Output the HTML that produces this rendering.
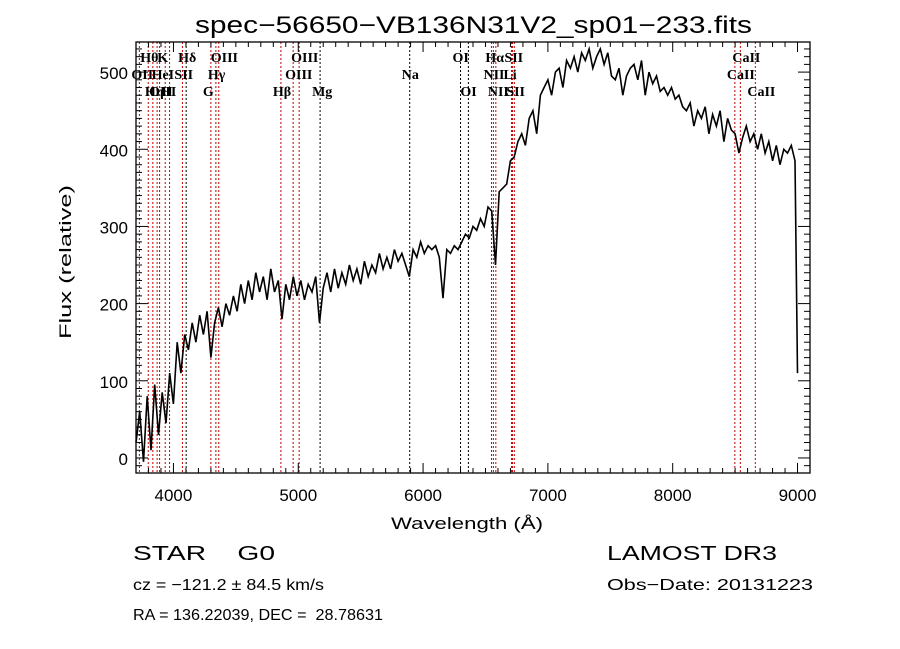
<!DOCTYPE html>
<html><head><meta charset="utf-8"><style>
html,body{margin:0;padding:0;background:#fff}
svg{display:block}
text{font-family:"Liberation Sans",sans-serif;fill:#000;white-space:pre}
.t{font-family:"Liberation Serif",serif;font-size:14px;font-weight:bold}
</style></head><body>
<svg id="chart" width="900" height="649" viewBox="0 0 900 649" xmlns="http://www.w3.org/2000/svg" xml:space="preserve">
<rect width="900" height="649" fill="#fff"/>
<text x="195" y="33" font-size="24" textLength="557" lengthAdjust="spacingAndGlyphs">spec−56650−VB136N31V2_sp01−233.fits</text>
<g id="marks"></g>
<g id="ticks"></g>
<rect x="136" y="42" width="674" height="431" fill="none" stroke="#000" stroke-width="1.3"/>
<text x="467" y="529" font-size="17" text-anchor="middle" textLength="152" lengthAdjust="spacingAndGlyphs">Wavelength (Å)</text>
<text transform="translate(71,262) rotate(-90)" font-size="17" text-anchor="middle" textLength="154" lengthAdjust="spacingAndGlyphs">Flux (relative)</text>
<text x="133" y="560" font-size="20" textLength="142" lengthAdjust="spacingAndGlyphs">STAR    G0</text>
<text x="607" y="560" font-size="20" textLength="170" lengthAdjust="spacingAndGlyphs">LAMOST DR3</text>
<text x="133" y="590" font-size="16" textLength="191" lengthAdjust="spacingAndGlyphs">cz = −121.2 ± 84.5 km/s</text>
<text x="607" y="590" font-size="16" textLength="206" lengthAdjust="spacingAndGlyphs">Obs−Date: 20131223</text>
<text x="133" y="620" font-size="16" textLength="250" lengthAdjust="spacingAndGlyphs">RA = 136.22039, DEC =  28.78631</text>
</svg>
<script>
const wlStart = 3700;
const wlStep = 30;
const flux = [20,60,-5,80,10,95,30,85,45,110,70,150,110,160,140,175,150,185,160,190,
130,175,195,170,200,185,210,190,225,200,230,205,240,215,235,205,245,215,230,180,
225,205,235,210,230,205,225,215,235,175,220,240,215,245,220,240,225,250,230,245,
225,255,235,250,240,265,245,260,245,270,255,265,250,235,270,260,280,265,275,270,
275,260,207,270,265,275,270,280,290,285,300,295,310,300,325,320,250,345,350,355,
385,390,410,420,405,440,450,420,470,480,490,470,500,505,480,515,505,520,500,525,
515,530,505,520,530,510,525,495,490,505,470,495,505,510,490,515,470,500,485,495,
475,480,470,480,465,470,455,450,460,430,450,440,455,420,445,430,450,410,440,425,
420,395,415,430,410,420,400,420,395,410,385,405,380,400,395,405,385,110];
const lineWaves = [3727,3798,3835,3869,3889,3934,3969,4072,4102,4300,4340,4363,4861,4959,5007,5175,5893,6300,6363,6548,6563,6583,6708,6716,6731,8498,8542,8662];
const lineColors = ["r","r","r","r","r","r","r","r","k","r","r","r","r","r","r","k","k","k","k","r","r","r","r","r","r","r","r","r"];
const labelText = ["Hθ","K","Hδ","OIII","OIII","OI","Hα","SII","CaII",
"OII","HeI","SII","Hγ","OIII","Na","NII","Li","CaII",
"OIII","Hη","H","G","Hβ","Mg","OI","NII","SII","CaII"];
const labelWaves = [3798,3934,4102,4363,5007,6300,6563,6716,8542,
3727,3889,4072,4340,4959,5893,6548,6708,8498,
3869,3835,3969,4300,4861,5175,6363,6583,6731,8662];
const labelRows = [0,0,0,0,0,0,0,0,0,1,1,1,1,1,1,1,1,1,2,2,2,2,2,2,2,2,2,2];
const xTicks = [4000,5000,6000,7000,8000,9000];
const yTicks = [0,100,200,300,400,500];

const NS="http://www.w3.org/2000/svg";
const X0=136,X1=810,Y0=473,Y1=42, XMIN=3700,XMAX=9100, YMIN=-19.5,YMAX=539;
const xs=w=>X0+(w-XMIN)/(XMAX-XMIN)*(X1-X0);
const ys=v=>Y0-(v-YMIN)/(YMAX-YMIN)*(Y0-Y1);
const marks=document.getElementById('marks'), ticks=document.getElementById('ticks');
function mk(tag,attrs,parent){const e=document.createElementNS(NS,tag);for(const k in attrs)e.setAttribute(k,attrs[k]);parent.appendChild(e);return e;}

lineWaves.forEach((w,i)=>{
  const l=mk('line',{x1:xs(w),x2:xs(w),y1:Y1,y2:Y0,stroke:lineColors[i]==="r"?"#c00000":"#000","stroke-width":1,"stroke-dasharray":"2,2"},marks);
  
  
});
labelText.forEach((t,i)=>{
  const e=mk('text',{x:xs(labelWaves[i])-8,y:62+labelRows[i]*17,class:'t'},marks);
  e.textContent=t;
  
  
});
let d='';
flux.forEach((f,i)=>{const w=wlStart+i*wlStep;d+=(i?'L':'M')+xs(Math.min(w,9000)).toFixed(1)+','+ys(f).toFixed(1);});
const p=mk('path',{d:d,fill:'none',stroke:'#000','stroke-width':1.6},marks);



for(let w=3700;w<=9100;w+=100){
  const maj=w%1000===0, L=maj?10:5;
  mk('line',{x1:xs(w),x2:xs(w),y1:Y0,y2:Y0-L,stroke:'#000'},ticks);
  mk('line',{x1:xs(w),x2:xs(w),y1:Y1,y2:Y1+L,stroke:'#000'},ticks);
}
for(let v=-10;v<=530;v+=10){
  const maj=v%100===0, L=maj?12:6;
  mk('line',{x1:X0,x2:X0+L,y1:ys(v),y2:ys(v),stroke:'#000'},ticks);
  mk('line',{x1:X1,x2:X1-L,y1:ys(v),y2:ys(v),stroke:'#000'},ticks);
}
xTicks.forEach(w=>{
  const e=mk('text',{x:xs(w),y:501,'font-size':17,'text-anchor':'middle'},ticks);
  e.textContent=w;
  
  
});
yTicks.forEach(v=>{
  const e=mk('text',{x:128,y:ys(v)+7,'font-size':17,'text-anchor':'end'},ticks);
  e.textContent=v;
  
  
});
</script>
</body></html>
